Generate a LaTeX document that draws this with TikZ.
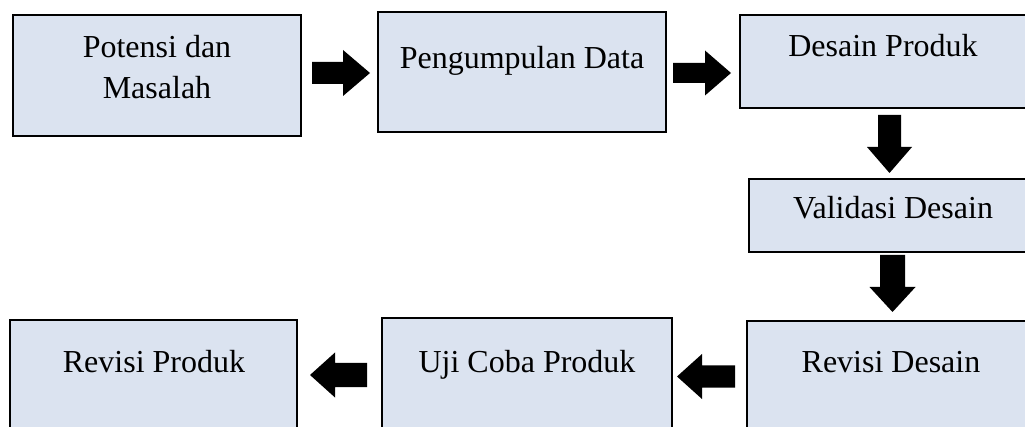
\documentclass[tikz,border=0pt]{standalone}
\usepackage{fontspec}
\setmainfont{Liberation Serif}
\usetikzlibrary{calc}
\definecolor{boxfill}{RGB}{219,227,240}
% block arrow: tail point, angle, shaft length, head length, half shaft, half head
\newcommand\barrow[6]{\fill[barrowfill, shift={#1}, rotate=#2]
  (0,-#5) -- (#3,-#5) -- (#3,-#6) -- ({#3+#4},0) -- (#3,#6) -- (#3,#5) -- (0,#5) -- cycle;}
\begin{document}
\begin{tikzpicture}[x=1pt,y=-1pt,
  boxstyle/.style={draw=black, line width=2pt, fill=boxfill, rectangle, inner sep=0pt, outer sep=0pt, anchor=north west},
  txt/.style={font=\fontsize{32}{41}\selectfont, inner sep=0pt, anchor=base, align=center},
  barrowfill/.style={fill=black}]
\useasboundingbox (0,0) rectangle (1025,427);
\clip (0,0) rectangle (1025,427);
% boxes
\node[boxstyle, minimum width=288pt, minimum height=121pt] (b1) at (13,15) {};
\node[boxstyle, minimum width=288pt, minimum height=120pt] (b2) at (378,12) {};
\node[boxstyle, minimum width=295pt, minimum height=93pt]  (b3) at (740,15) {};
\node[boxstyle, minimum width=286pt, minimum height=73pt]  (b4) at (749,179) {};
\node[boxstyle, minimum width=288pt, minimum height=130pt] (b5) at (747,321) {};
\node[boxstyle, minimum width=290pt, minimum height=130pt] (b6) at (382,318) {};
\node[boxstyle, minimum width=287pt, minimum height=130pt] (b7) at (10,320) {};
% texts
\node[txt, anchor=north] (t1) at (157,35) {Potensi dan\\Masalah};
\node[txt] (t2) at (522,69)  {Pengumpulan Data};
\node[txt] (t3) at (883,57)  {Desain Produk};
\node[txt] (t4) at (893,219) {Validasi Desain};
\node[txt] (t5) at (891,372) {Revisi Desain};
\node[txt] (t6) at (527,372) {Uji Coba Produk};
\node[txt] (t7) at (154,372) {Revisi Produk};
% block arrows between boxes
\barrow{($(b1.east)+(11,-2.5)$)}{0}{31}{27}{11}{23}
\barrow{($(b2.east)+(7,1)$)}{0}{32}{26}{10}{22.5}
\barrow{($(b3.south)+(2,7)$)}{-90}{32}{26}{11.5}{22.5}
\barrow{($(b4.south)+(0.5,3)$)}{-90}{32}{25}{12.5}{23}
\barrow{($(b5.west)+(-12,-9.5)$)}{180}{33}{25}{11}{22.5}
\barrow{($(b6.west)+(-15,-8)$)}{180}{32}{25}{12}{22.5}
\end{tikzpicture}
\end{document}
